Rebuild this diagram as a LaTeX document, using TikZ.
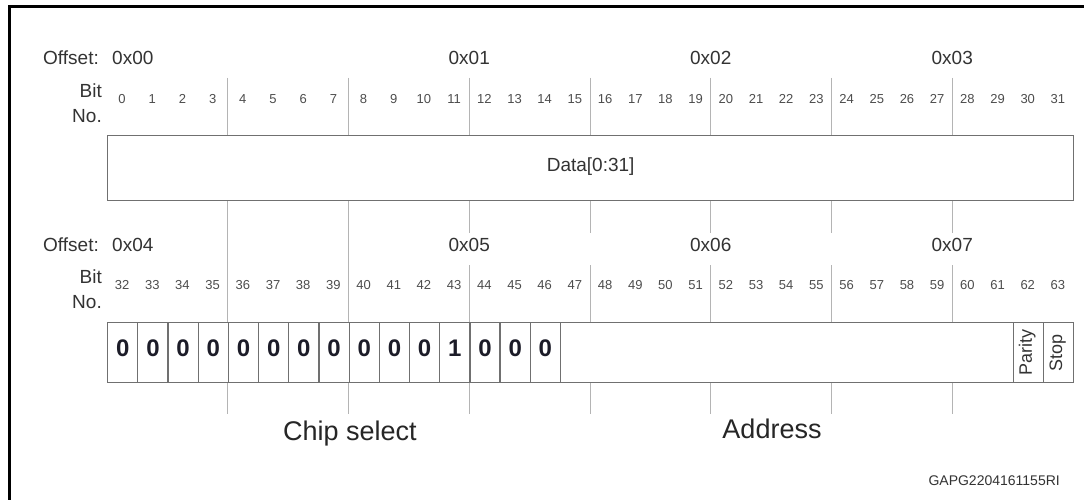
\documentclass[tikz,border=0pt]{standalone}
\usepackage{fontspec}
\setmainfont{Liberation Sans}
\definecolor{labelgray}{HTML}{333333}
\definecolor{bitgray}{HTML}{4D4D4D}
\definecolor{boxgray}{HTML}{707070}
\definecolor{sepgray}{HTML}{B4B4B4}
\definecolor{digitink}{HTML}{1C1C28}
\begin{document}
\begin{tikzpicture}[x=1pt,y=-1pt,
  txt/.style={inner sep=0pt,text height=0.716em,text depth=0pt},
  lbl/.style={txt,text=labelgray,font=\fontsize{19}{19}\selectfont},
  bitno/.style={txt,text=bitgray,font=\fontsize{13}{13}\selectfont},
  field/.style={draw=boxgray,line width=1.3pt,fill=white,inner sep=0pt,anchor=north west},
  cell/.style={field,minimum width=30.1875pt,minimum height=60pt,
    text=digitink,font=\fontsize{24}{24}\selectfont\bfseries,text height=0.716em,text depth=0pt},
  vcell/.style={field,minimum width=30.1875pt,minimum height=60pt},
  vtext/.style={txt,rotate=90,text=labelgray,font=\fontsize{18}{18}\selectfont},
  sep/.style={draw=sepgray,line width=1pt},
  group/.style={txt,text=black!85,font=\fontsize{27}{27}\selectfont},
  tag/.style={txt,text=black!80,font=\fontsize{14}{14}\selectfont}]
\useasboundingbox (0,0) rectangle (1084,500);
\fill[white] (0,0) rectangle (1084,500);
% outer frame
\draw[line width=3pt,line join=miter] (9,500) -- (9,7) -- (1084,7);

\def\cw{30.1875}
% nibble separators (every four bits)
\foreach \i in {1,2} {
  \coordinate (st\i) at ({107+\i*4*\cw},78);
  \coordinate (sb\i) at ({107+\i*4*\cw},414);
  \draw[sep] (st\i) -- (sb\i);
}
\foreach \i in {3,...,7} {
  \coordinate (ut\i) at ({107+\i*4*\cw},78);
  \coordinate (ub\i) at ({107+\i*4*\cw},233);
  \coordinate (lt\i) at ({107+\i*4*\cw},265);
  \coordinate (lb\i) at ({107+\i*4*\cw},414);
  \draw[sep] (ut\i) -- (ub\i);
  \draw[sep] (lt\i) -- (lb\i);
}

% ---------- first word: bits 0..31 ----------
\node[lbl,anchor=west] (off0) at (43,61) {Offset:};
\node[lbl,anchor=west] (a00) at (112,61) {0x00};
\node[lbl] (a01) at ({107+12*\cw},61) {0x01};
\node[lbl] (a02) at ({107+20*\cw},61) {0x02};
\node[lbl] (a03) at ({107+28*\cw},61) {0x03};
\node[lbl,anchor=east] (bit0) at (102,94) {Bit};
\node[lbl,anchor=east] (no0) at (102,118.5) {No.};
\foreach \k in {0,...,31}
  \node[bitno] (b\k) at ({107+(\k+0.5)*\cw},100) {\k};
\node[field,minimum width=966pt,minimum height=65pt,
      txt,text=labelgray,font=\fontsize{19}{19}\selectfont] (data) at (107,135) {};
\node[lbl] (datatext) at (data.center) {Data[0:31]};

% ---------- second word: bits 32..63 ----------
\node[lbl,anchor=west] (off1) at (43,248) {Offset:};
\node[lbl,anchor=west] (a04) at (112,248) {0x04};
\node[lbl] (a05) at ({107+12*\cw},248) {0x05};
\node[lbl] (a06) at ({107+20*\cw},248) {0x06};
\node[lbl] (a07) at ({107+28*\cw},248) {0x07};
\node[lbl,anchor=east] (bit1) at (102,280) {Bit};
\node[lbl,anchor=east] (no1) at (102,304.5) {No.};
\foreach \k in {0,...,31} {
  \pgfmathtruncatemacro{\n}{\k+32}
  \node[bitno] (b\n) at ({107+(\k+0.5)*\cw},286) {\n};
}
% chip-select bits
\foreach \k/\v in {0/0,1/0,2/0,3/0,4/0,5/0,6/0,7/0,8/0,9/0,10/0,11/1,12/0,13/0,14/0}
  \node[cell] (c\k) at ({107+\k*\cw},322) {\v};
% address, parity and stop fields
\node[field,minimum width={15*\cw},minimum height=60pt] (addr) at ({107+15*\cw},322) {};
\node[vcell] (par) at ({107+30*\cw},322) {};
\node[vcell] (stp) at ({107+31*\cw},322) {};
\node[vtext] at (par.center) {Parity};
\node[vtext] at (stp.center) {Stop};

% field group captions
\node[group] (cs) at (350,437) {Chip select};
\node[group] (ad) at (772,435) {Address};
\node[tag,anchor=east] (ref) at (1060,482) {GAPG2204161155RI};
\end{tikzpicture}
\end{document}
